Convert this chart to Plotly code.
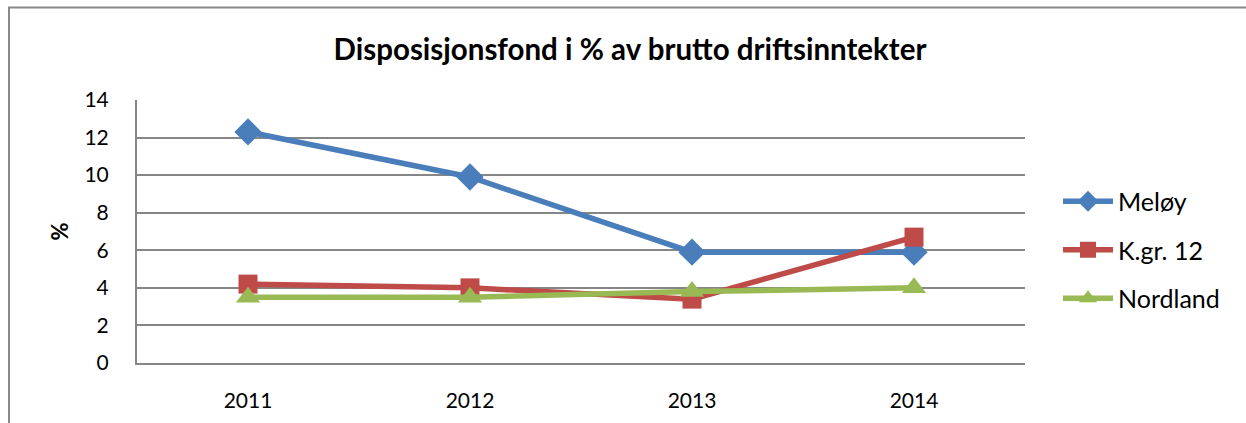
import plotly.graph_objects as go

years = ["2011", "2012", "2013", "2014"]
meloy = [12.3, 9.9, 5.9, 5.9]
kgr12 = [4.2, 4.0, 3.4, 6.7]
nordland = [3.5, 3.5, 3.8, 4.0]
y_ticks = [0, 2, 4, 6, 8, 10, 12, 14]

FONT = "Lato, Carlito, Calibri, sans-serif"

fig = go.Figure()
series = [
    ("Meløy", meloy, "#4A7EBB", "diamond", 21),
    ("K.gr. 12", kgr12, "#BE4B48", "square", 19),
    ("Nordland", nordland, "#98B954", "triangle-up", 21),
]
for name, vals, col, sym, sz in series:
    fig.add_trace(go.Scatter(
        x=years, y=vals, name=name, mode="lines+markers",
        line=dict(color=col, width=5.5),
        marker=dict(symbol=sym, size=sz, color=col, line=dict(width=0)),
        legendgroup=name,
    ))

W, H = 1246, 423
L, R, T, B = 137, 221, 100, 60
pw, ph = W - L - R, H - T - B

fig.update_layout(
    width=W, height=H,
    margin=dict(l=L, r=R, t=T, b=B, autoexpand=False),
    paper_bgcolor="white", plot_bgcolor="white",
    font=dict(family=FONT, color="black", size=21),
    title=dict(text="<b>Disposisjonsfond i % av brutto driftsinntekter</b>",
               x=630 / W, xanchor="center", y=1 - 50 / H, yanchor="middle",
               font=dict(size=29.5, family=FONT)),
    showlegend=True,
    legend=dict(x=(1058 - L) / pw, y=(H - B - 250) / ph, xanchor="left", yanchor="middle",
                font=dict(size=25, family=FONT), traceorder="grouped", tracegroupgap=13,
                bgcolor="rgba(0,0,0,0)", itemwidth=50),
    xaxis=dict(type="category", range=[-0.5, 3.5], showgrid=False, automargin=False,
               showline=True, linecolor="#868686", linewidth=2,
               ticks="", ticklabelstandoff=18, tickfont=dict(size=21)),
    yaxis=dict(range=[0, 14], tickvals=y_ticks, showgrid=True, gridcolor="#868686",
               gridwidth=2, showline=True, linecolor="#868686", linewidth=2, automargin=False,
               ticks="", ticklabelstandoff=22, zeroline=False, tickfont=dict(size=21),
               title=dict(text="<b>%</b>", font=dict(size=22), standoff=10)),
    shapes=[dict(type="rect", xref="paper", yref="paper",
                 x0=(9 - L) / pw, x1=(W + 20 - L) / pw,
                 y0=(H - B - (H + 20)) / ph, y1=(H - B - 7.5) / ph,
                 line=dict(color="#888888", width=2), fillcolor="rgba(0,0,0,0)", layer="below")],
)

fig.write_html("out.html", config={"displayModeBar": False},
               post_script="document.body.style.margin='0';document.body.style.overflow='hidden';")
